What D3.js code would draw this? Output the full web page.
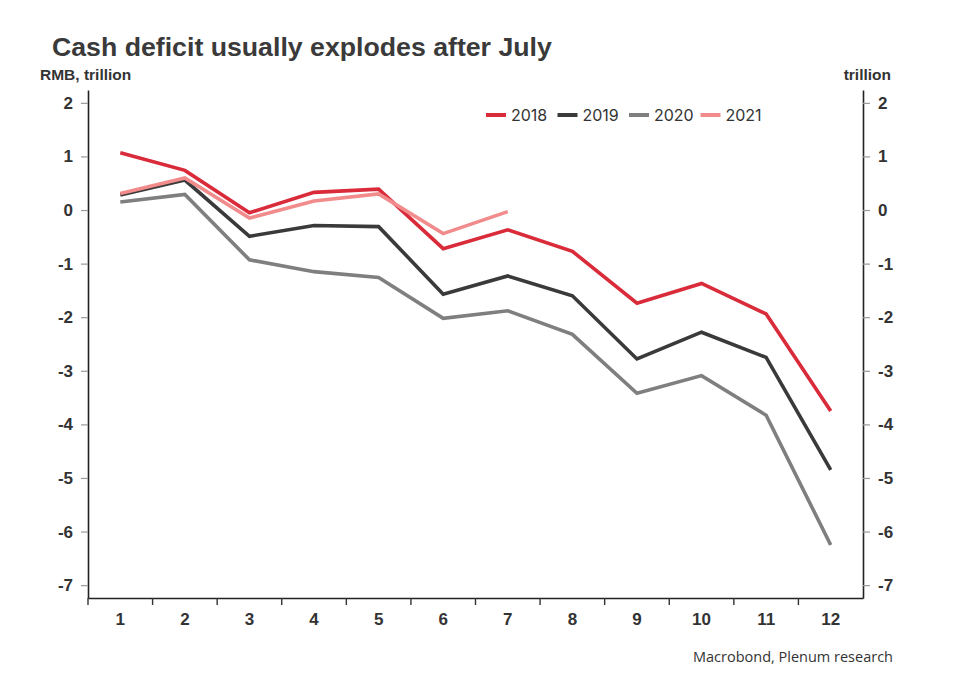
<!DOCTYPE html>
<html><head><meta charset="utf-8">
<script src="https://cdn.jsdelivr.net/npm/d3@7"></script>
<style>body{margin:0;background:#fff;} svg{display:block;font-family:"Liberation Sans", Arial, sans-serif;}</style>
</head><body>
<svg id="c" width="978" height="686"></svg>
<script>
const months = ["1","2","3","4","5","6","7","8","9","10","11","12"];
const yTicks = [2,1,0,-1,-2,-3,-4,-5,-6,-7];
const s2018 = [1.07,0.74,-0.05,0.33,0.39,-0.72,-0.37,-0.77,-1.74,-1.37,-1.94,-3.75];
const s2019 = [0.28,0.56,-0.49,-0.29,-0.31,-1.57,-1.23,-1.60,-2.78,-2.28,-2.75,-4.85];
const s2020 = [0.15,0.29,-0.93,-1.15,-1.26,-2.02,-1.88,-2.32,-3.42,-3.09,-3.83,-6.25];
const s2021 = [0.31,0.60,-0.15,0.17,0.30,-0.44,-0.03];
const seriesNames = ["2018","2019","2020","2021"];
const seriesColors = ["#d92b3a","#3a3a3a","#7f7f7f","#f28b8b"];
const seriesData = [s2018,s2019,s2020,s2021];

const svg = d3.select("#c");
const L = 88, R = 863, T = 90, B = 598;
const x = d3.scaleBand().domain(months).range([L,R]);
const y = d3.scaleLinear().domain([-7.24,2.24]).range([B,T]);

const title = svg.append("text").attr("x",52).attr("y",56).attr("font-size",28).attr("font-weight","bold")
  .attr("fill","#3a3a3a").text("Cash deficit usually explodes after July");
const tw = title.node().getComputedTextLength();
title.attr("font-size", 28*500/tw);
svg.append("text").attr("x",40).attr("y",80).attr("font-size",15.5).attr("font-weight","bold")
  .attr("fill","#333").text("RMB, trillion");
svg.append("text").attr("x",891).attr("y",80).attr("font-size",15.5).attr("font-weight","bold")
  .attr("fill","#333").attr("text-anchor","end").text("trillion");
svg.append("text").attr("x",893).attr("y",662).attr("font-size",14.5)
  .attr("font-family","'Open Sans', sans-serif")
  .attr("fill","#333").attr("text-anchor","end").text("Macrobond, Plenum research");

// left axis
const la = svg.append("g").attr("transform",`translate(${L},0)`)
  .call(d3.axisLeft(y).tickValues(yTicks).tickSize(7).tickSizeOuter(0).tickPadding(8).tickFormat(d3.format("d")));
// right axis
const ra = svg.append("g").attr("transform",`translate(${R},0)`)
  .call(d3.axisRight(y).tickValues(yTicks).tickSize(7).tickSizeOuter(0).tickPadding(8).tickFormat(d3.format("d")));
[la,ra].forEach(g=>{
  g.select(".domain").attr("stroke","#222").attr("stroke-width",1.6);
  g.selectAll(".tick line").attr("stroke","#999").attr("stroke-width",1.2);
  g.selectAll(".tick text").attr("font-size",17).attr("font-weight","bold").attr("fill","#333")
    .attr("font-family","'Liberation Sans', Arial, sans-serif").text(d=>d<0?"-"+Math.abs(d):d);
});
// bottom axis
const xa = svg.append("g").attr("transform",`translate(0,${B})`)
  .call(d3.axisBottom(x).tickSize(0).tickPadding(15));
xa.select(".domain").attr("stroke","#222").attr("stroke-width",1.6);
xa.selectAll(".tick text").attr("font-size",17).attr("font-weight","bold").attr("fill","#333")
  .attr("font-family","'Liberation Sans', Arial, sans-serif");
const bounds = months.map(m=>x(m));
xa.selectAll(".bt").data(bounds).enter().append("line")
  .attr("x1",d=>d).attr("x2",d=>d).attr("y1",0).attr("y2",7).attr("stroke","#333").attr("stroke-width",1.4);

const line = d3.line().x((d,i)=>x(months[i])+x.bandwidth()/2).y(d=>y(d));
// draw order: 2020, 2019, 2018, 2021
[2,1,0,3].forEach(k=>{
  svg.append("path").datum(seriesData[k]).attr("d",line).attr("fill","none")
    .attr("stroke",seriesColors[k]).attr("stroke-width",3.6).attr("stroke-linejoin","miter");
});

// legend
const lg = svg.append("g");
seriesNames.forEach((n,i)=>{
  const gx = 486 + i*71.5;
  lg.append("line").attr("x1",gx).attr("x2",gx+20).attr("y1",115).attr("y2",115)
    .attr("stroke",seriesColors[i]).attr("stroke-width",4);
  lg.append("text").attr("x",gx+25).attr("y",121).attr("font-size",16).attr("fill","#333")
    .attr("font-family","Inter, Roboto, sans-serif").text(n);
});
</script>
</body></html>
